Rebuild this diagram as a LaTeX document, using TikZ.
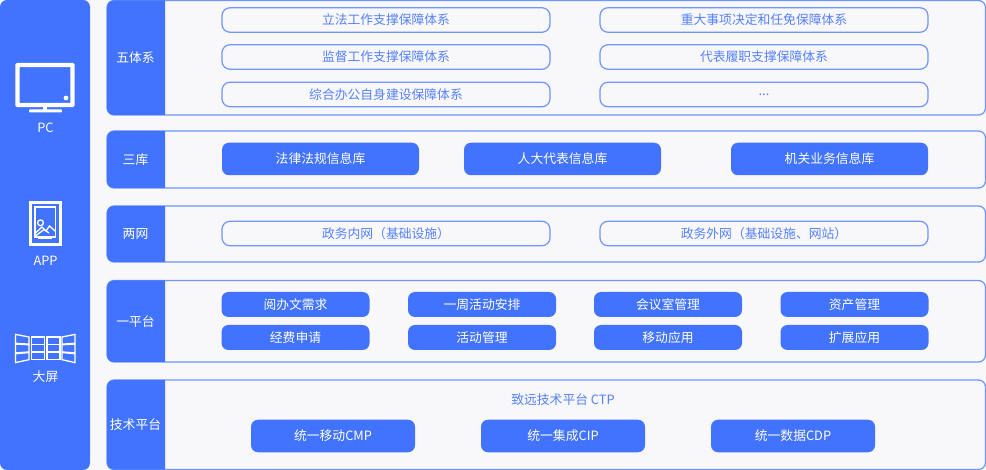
\documentclass[tikz,border=0pt]{standalone}
\usepackage{fontspec}
\setmainfont{Noto Sans CJK SC}
\definecolor{mainblue}{HTML}{4273FF}
\definecolor{lineblue}{HTML}{6F96FF}
\definecolor{pagegray}{HTML}{F8F7F9}
\tikzset{
  panelbox/.style={draw=lineblue, line width=1.2pt, fill=pagegray, rounded corners=7pt},
  headtext/.style={text=white, font=\fontsize{12.8}{14}\selectfont},
  fillbox/.style={fill=mainblue, rounded corners=7pt, text=white, font=\fontsize{12.8}{14}\selectfont},
  linebox/.style={draw=lineblue, line width=1.2pt, fill=pagegray, rounded corners=8pt, text=mainblue!90!white,
    font=\fontsize{12.8}{14}\selectfont, minimum width=328pt, minimum height=24.5pt, inner sep=0pt},
  iconline/.style={draw=white, line width=1.3pt}
}
\begin{document}
\begin{tikzpicture}[x=1pt,y=-1pt]
\useasboundingbox (0,0) rectangle (986,470);
\fill[pagegray] (0,0) rectangle (986,470);
% left bar
\fill[mainblue, rounded corners=7pt] (0,0) rectangle (90,470);
% pc icon
\draw[white, line width=4.4pt, rounded corners=0.5pt] (17.5,65) rectangle (72.5,105);
\fill[white] (66,98) circle (2.4);
\fill[white] (43,107) rectangle (47,110);
\fill[white, rounded corners=0.8pt] (29,109.5) rectangle (62,112.5);
\node[headtext] (pc) at (45.5,127.5) {PC};
% app icon
\draw[white, line width=2.6pt] (30.3,202.3) rectangle (60.7,244.7);
\draw[iconline] (35,207) rectangle (55.5,237);
\draw[iconline] (40.5,222.8) circle (2.9);
\draw[iconline] (35.5,233) -- (42,227) -- (46,231) -- (49.5,226) -- (55,231);
\draw[iconline] (35.5,236) -- (44,229.5) -- (49,233);
\fill[white] (38,236.5) rectangle (52,239);
\node[headtext] (app) at (45.5,260.5) {APP};
% screen icon
\foreach \xa/\xb/\ya/\yb/\yc/\yd in {15.5/29/334/336.7/363/360, 31.5/44.5/336.7/336.7/360/360,
    47/60/336.7/336.7/360/360, 62/75/336.7/334/360/363}{
  \foreach \i in {0,1,2}{
    \draw[iconline]
      ({\xa},{\ya+(\yc-\ya)*(\i+0.04)/3}) -- ({\xb},{\yb+(\yd-\yb)*(\i+0.04)/3})
      -- ({\xb},{\yb+(\yd-\yb)*(\i+0.96)/3}) -- ({\xa},{\ya+(\yc-\ya)*(\i+0.96)/3}) -- cycle;
  }
}
\node[headtext] (screen) at (45.5,377) {大屏};
% five panels on the right
\foreach \name/\ytop/\ybot/\txt in {wuti/0.5/115/五体系, sanku/131/188/三库, liangwang/206/262/两网,
    pingtai/280.5/362/一平台, jishu/380/469.5/技术平台}{
  \draw[panelbox] (107,\ytop) rectangle (985.5,\ybot);
  \fill[mainblue] (165,\ytop) -- (165,\ybot) [rounded corners=7pt] -- (107,\ybot) -- (107,\ytop) [sharp corners] -- cycle;
  \node[headtext] (\name) at (135.5,{(\ytop+\ybot)/2}) {\txt};
}
% wutixi
\foreach \name/\cx/\cy/\txt in {lifa/386/20/立法工作支撑保障体系, zhongda/764/20/重大事项决定和任免保障体系,
    jiandu/386/57/监督工作支撑保障体系, daibiao/764/57/代表履职支撑保障体系,
    zonghe/386/94.5/综合办公自身建设保障体系,
    neiwang/386/233.5/政务内网（基础设施）, waiwang/764/233.5/政务外网（基础设施、网站）}{
  \node[linebox] (\name) at (\cx,\cy) {\txt};
}
\node[linebox] (more) at (764,94.5) {...};
% sanku
\foreach \name/\cx/\txt in {falv/320.5/法律法规信息库, renda/562.5/人大代表信息库, jiguan/829.5/机关业务信息库}{
  \node[fillbox, minimum width=197pt, minimum height=32.5pt, inner sep=0pt] (\name) at (\cx,159) {\txt};
}
% pingtai
\foreach \name/\cx/\cy/\txt in {yueban/295.5/304.5/阅办文需求, zhouhuo/482/304.5/一周活动安排,
    huiyi/668/304.5/会议室管理, zichan/854.5/304.5/资产管理,
    jingfei/295.5/337.5/经费申请, huodong/482/337.5/活动管理,
    yidong/668/337.5/移动应用, kuozhan/854.5/337.5/扩展应用}{
  \node[fillbox, minimum width=148pt, minimum height=25pt, inner sep=0pt] (\name) at (\cx,\cy) {\txt};
}
% jishu
\node[font=\fontsize{12.8}{14}\selectfont, text=mainblue!90!white] (ctp) at (563,399.5) {致远技术平台 CTP};
\foreach \name/\cx/\txt in {cmp/333/统一移动CMP, cip/563/统一集成CIP, cdp/793/统一数据CDP}{
  \node[fillbox, minimum width=164pt, minimum height=32.5pt, inner sep=0pt] (\name) at (\cx,436) {\txt};
}
\end{tikzpicture}
\end{document}
